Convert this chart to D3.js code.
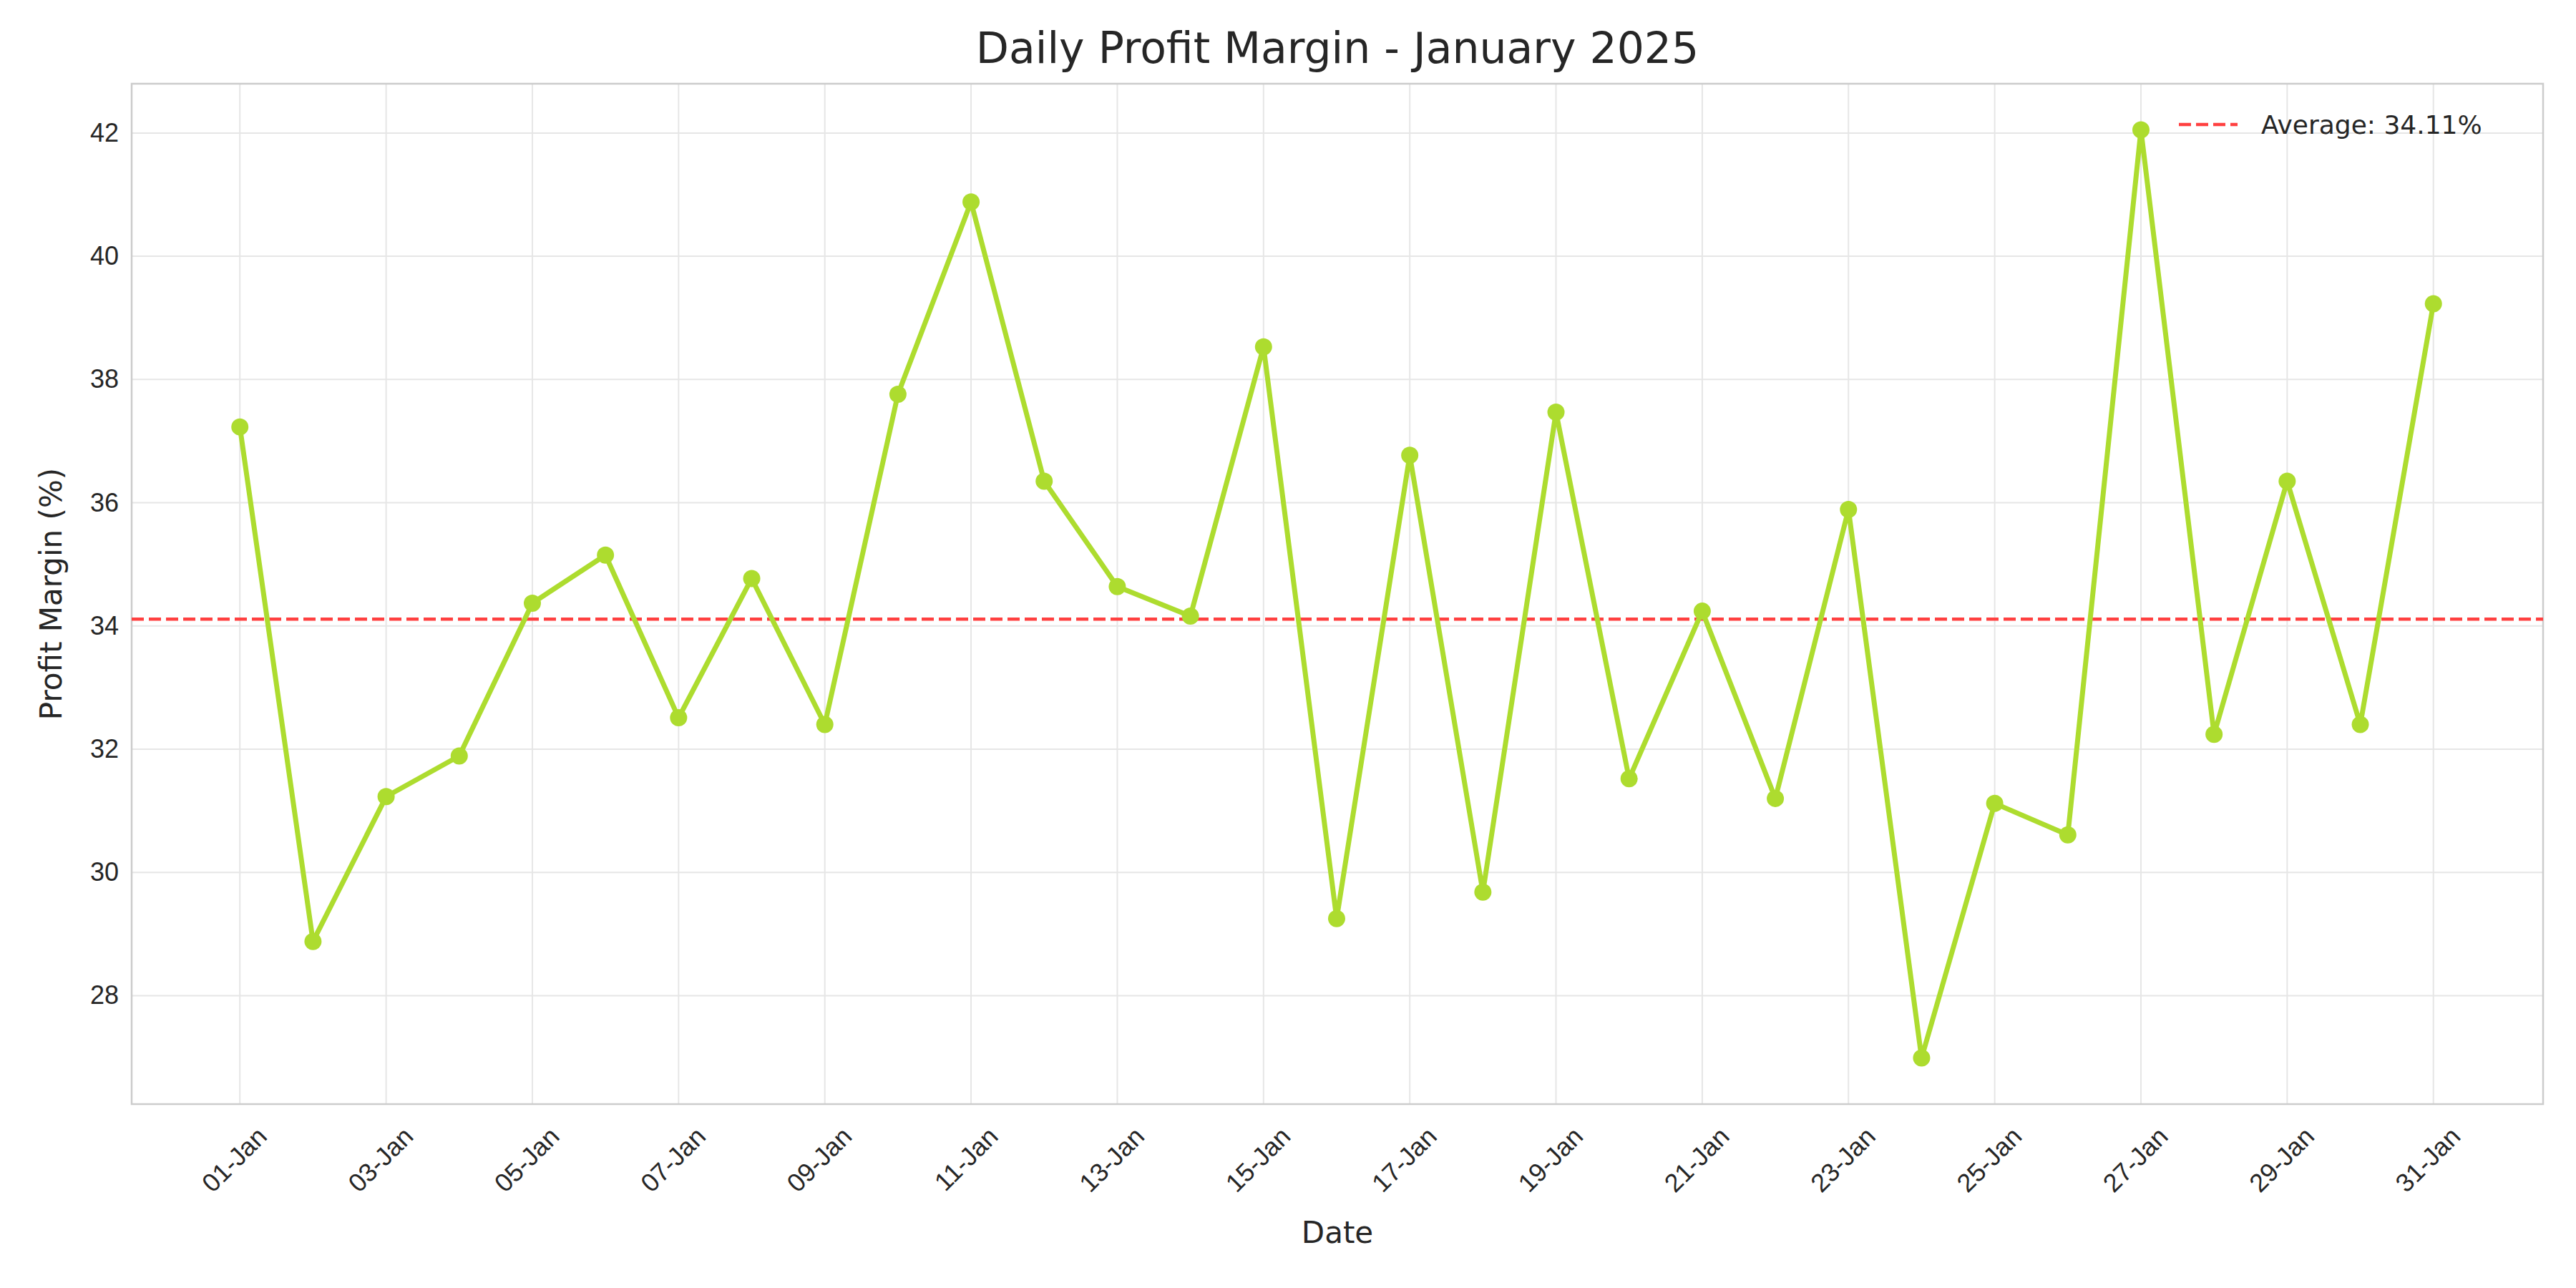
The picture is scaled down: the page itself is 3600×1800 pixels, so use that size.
<!DOCTYPE html>
<html><head><meta charset="utf-8">
<script src="https://cdn.jsdelivr.net/npm/d3@7"></script>
<style>body{margin:0;background:#fff}svg{display:block;font-family:"DejaVu Sans",sans-serif}</style>
</head><body><div id="chart-area"></div>
<script>
const days = d3.range(1, 32)
const margins = [37.23, 28.88, 31.23, 31.89, 34.37, 35.15, 32.51, 34.77, 32.40, 37.76,
  40.88, 36.35, 34.64, 34.16, 38.53, 29.25, 36.77, 29.68, 37.47, 31.52,
  34.24, 31.20, 35.89, 26.99, 31.12, 30.61, 42.05, 32.24, 36.35, 32.40, 39.23]
const average = 34.11
const yTicks = [28, 30, 32, 34, 36, 38, 40, 42]
const xTicks = d3.range(1, 32, 2)

const W = 3600, H = 1800
const M = { LEFT: 184, RIGHT: 46, TOP: 117, BOTTOM: 257 }
const IW = W - M.LEFT - M.RIGHT, IH = H - M.TOP - M.BOTTOM

const svg = d3.select("#chart-area").append("svg").attr("width", W).attr("height", H)
const g = svg.append("g").attr("transform", `translate(${M.LEFT},${M.TOP})`)

const x = d3.scaleLinear().domain([-0.48, 32.5]).range([0, IW])
const y = d3.scaleLinear().domain([26.24, 42.8]).range([IH, 0])

// grid
g.selectAll(".gx").data(xTicks).enter().append("line")
  .attr("x1", d => x(d)).attr("x2", d => x(d)).attr("y1", 0).attr("y2", IH)
  .attr("stroke", "#e6e6e6").attr("stroke-width", 2)
g.selectAll(".gy").data(yTicks).enter().append("line")
  .attr("x1", 0).attr("x2", IW).attr("y1", d => y(d)).attr("y2", d => y(d))
  .attr("stroke", "#e6e6e6").attr("stroke-width", 2)

g.append("rect").attr("width", IW).attr("height", IH)
  .attr("fill", "none").attr("stroke", "#cccccc").attr("stroke-width", 2.5)

// axes
const xa = g.append("g").attr("transform", `translate(0,${IH})`)
  .call(d3.axisBottom(x).tickValues(xTicks).tickSize(0).tickPadding(18)
    .tickFormat(d => String(d).padStart(2, "0") + "-Jan"))
xa.select(".domain").remove()
xa.selectAll("text").attr("font-size", 36).attr("fill", "#262626")
  .attr("text-anchor", "end").attr("dy", "0.5em")
  .attr("transform", "translate(14,22) rotate(-45)")

const ya = g.append("g")
  .call(d3.axisLeft(y).tickValues(yTicks).tickSize(0).tickPadding(18))
ya.select(".domain").remove()
ya.selectAll("text").attr("font-size", 36).attr("fill", "#262626")

// average line
g.append("line").attr("x1", 0).attr("x2", IW)
  .attr("y1", y(average)).attr("y2", y(average))
  .attr("stroke", "#ff4040").attr("stroke-width", 4.5).attr("stroke-dasharray", "17,7")

// series
const line = d3.line().x((d, i) => x(days[i])).y(d => y(d))
g.append("path").datum(margins).attr("d", line)
  .attr("fill", "none").attr("stroke", "#addc2f").attr("stroke-width", 7)
  .attr("stroke-linejoin", "round")
g.selectAll(".dot").data(margins).enter().append("circle")
  .attr("cx", (d, i) => x(days[i])).attr("cy", d => y(d)).attr("r", 12)
  .attr("fill", "#addc2f")

// legend
svg.append("line").attr("x1", 3045).attr("x2", 3127).attr("y1", 174).attr("y2", 174)
  .attr("stroke", "#ff4040").attr("stroke-width", 4.5).attr("stroke-dasharray", "17,7")
svg.append("text").attr("x", 3160).attr("y", 174).attr("dy", "0.35em")
  .attr("font-size", 36).attr("fill", "#262626").text(`Average: ${average.toFixed(2)}%`)

// labels
svg.append("text").attr("x", 1869).attr("y", 88).attr("text-anchor", "middle")
  .attr("font-size", 60).attr("fill", "#262626").text("Daily Profit Margin - January 2025")
svg.append("text").attr("x", M.LEFT + IW / 2).attr("y", 1737).attr("text-anchor", "middle")
  .attr("font-size", 42).attr("fill", "#262626").text("Date")
svg.append("text").attr("transform", `translate(86,${M.TOP + IH / 2}) rotate(-90)`)
  .attr("text-anchor", "middle").attr("font-size", 42).attr("fill", "#262626")
  .text("Profit Margin (%)")
</script></body></html>
